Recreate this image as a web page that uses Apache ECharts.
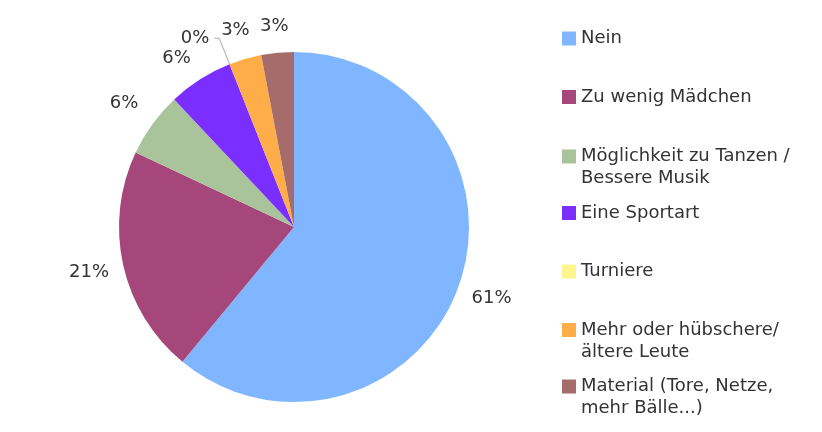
<!DOCTYPE html>
<html>
<head>
<meta charset="utf-8">
<script src="https://cdn.jsdelivr.net/npm/echarts@6/dist/echarts.min.js"></script>
<style>
html,body{margin:0;padding:0;background:#fff;}
#main{width:822px;height:432px;}
</style>
</head>
<body>
<div id="main"></div>
<script>
// Data (percent shares)
var categories = [
  'Nein',
  'Zu wenig Mädchen',
  'Möglichkeit zu Tanzen /\nBessere Musik',
  'Eine Sportart',
  'Turniere',
  'Mehr oder hübschere/\nältere Leute',
  'Material (Tore, Netze,\nmehr Bälle...)'
];
var values = [61, 21, 6, 6, 0, 3, 3];
var colors = ['#80B6FF', '#A5477A', '#A9C39B', '#7A2EFF', '#FFF58F', '#FFAD48', '#A66B6B'];
var legendTops = [27.5, 86, 145.5, 202, 260.5, 319, 375.5];

var FONT = 'DejaVu Sans';
var TXT = '#333333';

var mainData = categories.map(function (name, i) {
  var item = { name: name, value: values[i], itemStyle: { color: colors[i] } };
  if (values[i] === 0) {
    item.label = { show: true, position: 'outside' };
    item.labelLine = { show: true, length: 28, length2: 5, lineStyle: { color: '#aaaaaa', width: 1 } };
  }
  return item;
});

var labelData = categories.map(function (name, i) {
  var item = { name: name, value: values[i] };
  if (values[i] === 0) item.label = { show: false };
  // small nudges so the crowded top labels sit where the reference has them
  if (i === 3) item.label = { offset: [-5, 9] };
  if (i === 5) item.label = { offset: [0, 5] };
  if (i === 6) item.label = { offset: [0, 8] };
  return item;
});

var legends = categories.map(function (name, i) {
  var twoLine = name.indexOf('\n') >= 0;
  return {
    data: [name],
    left: 562,
    top: legendTops[i],
    orient: 'vertical',
    padding: 0,
    itemWidth: 14,
    itemHeight: twoLine ? 36 : 14,
    itemGap: 0,
    icon: twoLine ? 'path://M0,0H14V14H0Z M0,36' : 'rect',
    selectedMode: false,
    textStyle: { fontFamily: FONT, fontSize: 18, color: TXT, lineHeight: 22 }
  };
});

var chart = echarts.init(document.getElementById('main'), null, { renderer: 'canvas' });
chart.setOption({
  backgroundColor: '#ffffff',
  animation: false,
  legend: legends,
  series: [
    {
      type: 'pie',
      center: [294, 227],
      radius: 175,
      startAngle: 90,
      clockwise: true,
      avoidLabelOverlap: false,
      labelLayout: { hideOverlap: false },
      emphasis: { disabled: true },
      label: {
        show: false,
        formatter: '{c}%',
        fontFamily: FONT, fontSize: 18, color: TXT
      },
      labelLine: { show: false },
      data: mainData
    },
    {
      type: 'pie',
      center: [294, 227],
      radius: [180, 234],
      startAngle: 90,
      clockwise: true,
      silent: true,
      avoidLabelOverlap: false,
      labelLayout: { hideOverlap: false },
      emphasis: { disabled: true },
      itemStyle: { color: 'rgba(0,0,0,0)' },
      label: {
        show: true,
        position: 'inside',
        formatter: '{c}%',
        fontFamily: FONT, fontSize: 18, color: TXT,
        textBorderWidth: 0
      },
      labelLine: { show: false },
      data: labelData
    }
  ]
});
</script>
</body>
</html>
